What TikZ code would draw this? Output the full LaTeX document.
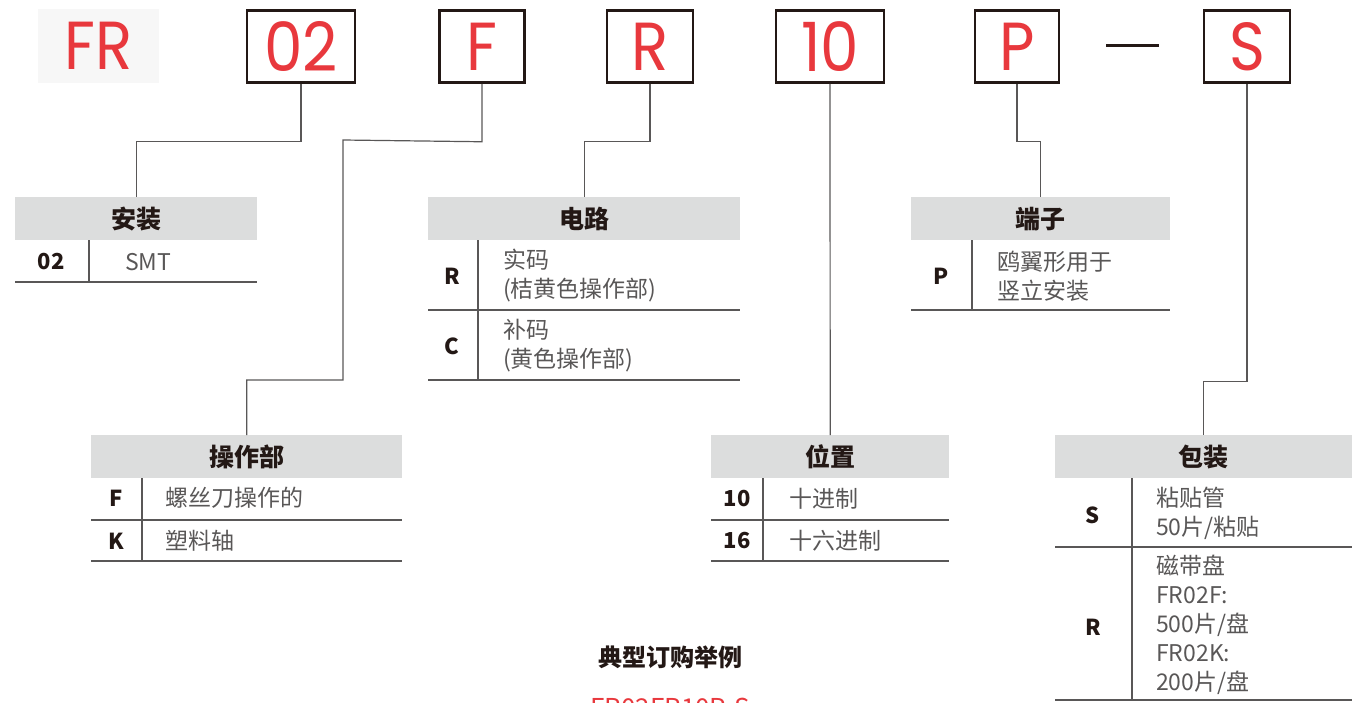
\documentclass[tikz,border=0pt]{standalone}
\usepackage{fontspec}
\setmainfont{Noto Sans CJK SC}
\newfontfamily\codefont[FakeStretch=0.9]{Poppins}
\usetikzlibrary{positioning}
\definecolor{codered}{HTML}{E8383D}
\definecolor{headgray}{HTML}{DCDDDD}
\definecolor{ink}{HTML}{231815}
\definecolor{inkgray}{HTML}{595757}
\definecolor{fadegray}{HTML}{F7F7F7}
\begin{document}
\begin{tikzpicture}[x=1pt,y=-1pt,
  codebox/.style={draw=ink, line width=2.5pt, minimum height=72pt, inner sep=0pt,
    text=codered, font=\codefont\fontsize{68}{68}\selectfont},
  head/.style={fill=headgray, anchor=north west, minimum height=43pt, inner sep=0pt,
    text=ink, font=\bfseries\fontsize{25}{25}\selectfont},
  key/.style={text=ink, inner sep=0pt, font=\bfseries\fontsize{22}{22}\selectfont},
  desc/.style={anchor=west, align=left, inner sep=0pt, text=inkgray,
    font=\fontsize{23}{29}\selectfont},
  rule/.style={draw=inkgray, line width=1.5pt},
  lead/.style={draw=inkgray, line width=1.2pt}]
\useasboundingbox (0,0) rectangle (1352,702);
\clip (0,0) rectangle (1352,702);

% code boxes
\path
(98.5,46)   node[fill=fadegray, minimum width=121pt, minimum height=74pt, inner sep=0pt,
             text=codered, font=\codefont\fontsize{68}{68}\selectfont] (cFR) {FR}
(301,46.5)  node[codebox, minimum width=108pt] (c02) {02}
(482,46.5)  node[codebox, minimum width=85pt]  (cF)  {F}
(650,46.5)  node[codebox, minimum width=86pt]  (cR)  {R}
(830,46.5)  node[codebox, minimum width=108pt] (c10) {10}
(1017,46.5) node[codebox, minimum width=84pt]  (cP)  {P}
(1247,46.5) node[codebox, minimum width=86pt]  (cS)  {S};
\draw[ink, line width=2.5pt] (cP.east) ++(46,-1) coordinate (d1) -- ++(53,0) coordinate (d2);

% headers
\node[head, minimum width=242pt] (hMount) at (15,197)  {安装};
\node[head, minimum width=312pt] (hCirc)  at (428,197) {电路};
\node[head, minimum width=259pt] (hTerm)  at (911,197) {端子};
\node[head, minimum width=311pt] (hOp)    at (91,435)  {操作部};
\node[head, minimum width=238pt] (hPos)   at (711,435) {位置};
\node[head, minimum width=297pt] (hPack)  at (1055,435) {包装};

% leaders
\draw[lead] (c02.south) -- ++(0,58) -| (hMount.north);
\draw[lead] (cF.south) -- ++(0,58) -- (343,140) -- (343,380) -| (hOp.north);
\draw[lead] (cR.south) -- ++(0,58) -| (hCirc.north);
\draw[lead] (c10.south) -- (hPos.north);
\draw[lead] (cP.south) -- ++(0,58) -| (hTerm.north);
\draw[lead] (cS.south) -- ++(0,298) -| (hPack.north);

% 安装
\node[key] (kMount) at (51,262) {02};
\node[desc] (tMount) at (125,262) {SMT};
\draw[rule] (89,240) -- (89,282) (15,282) -- (257,282);

% 电路
\node[key] (kCircR) at (452,276) {R};
\node[desc] (tCircR) at (503,276) {实码\\(桔黄色操作部)};
\node[key] (kCircC) at (452,346) {C};
\node[desc] (tCircC) at (503,346) {补码\\(黄色操作部)};
\draw[rule] (478,240) -- (478,380) (428,310) -- (740,310) (428,380) -- (740,380);

% 端子
\node[key] (kTerm) at (941,276) {P};
\node[desc] (tTerm) at (997,276) {鸥翼形用于\\竖立安装};
\draw[rule] (972,240) -- (972,310) (911,310) -- (1170,310);

% 操作部
\node[key] (kOpF) at (116,498) {F};
\node[desc] (tOpF) at (165,498) {螺丝刀操作的};
\node[key] (kOpK) at (116,541) {K};
\node[desc] (tOpK) at (165,541) {塑料轴};
\draw[rule] (142,478) -- (142,561) (91,520) -- (402,520) (91,561) -- (402,561);

% 位置
\node[key] (kPos10) at (737,499) {10};
\node[desc] (tPos10) at (789,499) {十进制};
\node[key] (kPos16) at (737,541) {16};
\node[desc] (tPos16) at (789,541) {十六进制};
\draw[rule] (763,478) -- (763,561) (711,520) -- (949,520) (711,561) -- (949,561);

% 包装
\node[key] (kPackS) at (1093,515) {S};
\node[desc] (tPackS) at (1156,513) {粘贴管\\50片/粘贴};
\node[key] (kPackR) at (1093,627) {R};
\node[desc] (tPackR) at (1156,625) {磁带盘\\FR02F:\\500片/盘\\FR02K:\\200片/盘};
\draw[rule] (1132,478) -- (1132,700) (1055,547) -- (1352,547) (1055,700) -- (1352,700);

% example
\node[text=ink, font=\bfseries\fontsize{24}{24}\selectfont] (exTitle) at (670,657) {典型订购举例};
\node[text=codered, font=\fontsize{26}{26}\selectfont] (exCode) at (670,708) {FR02FR10P-S};
\end{tikzpicture}
\end{document}
